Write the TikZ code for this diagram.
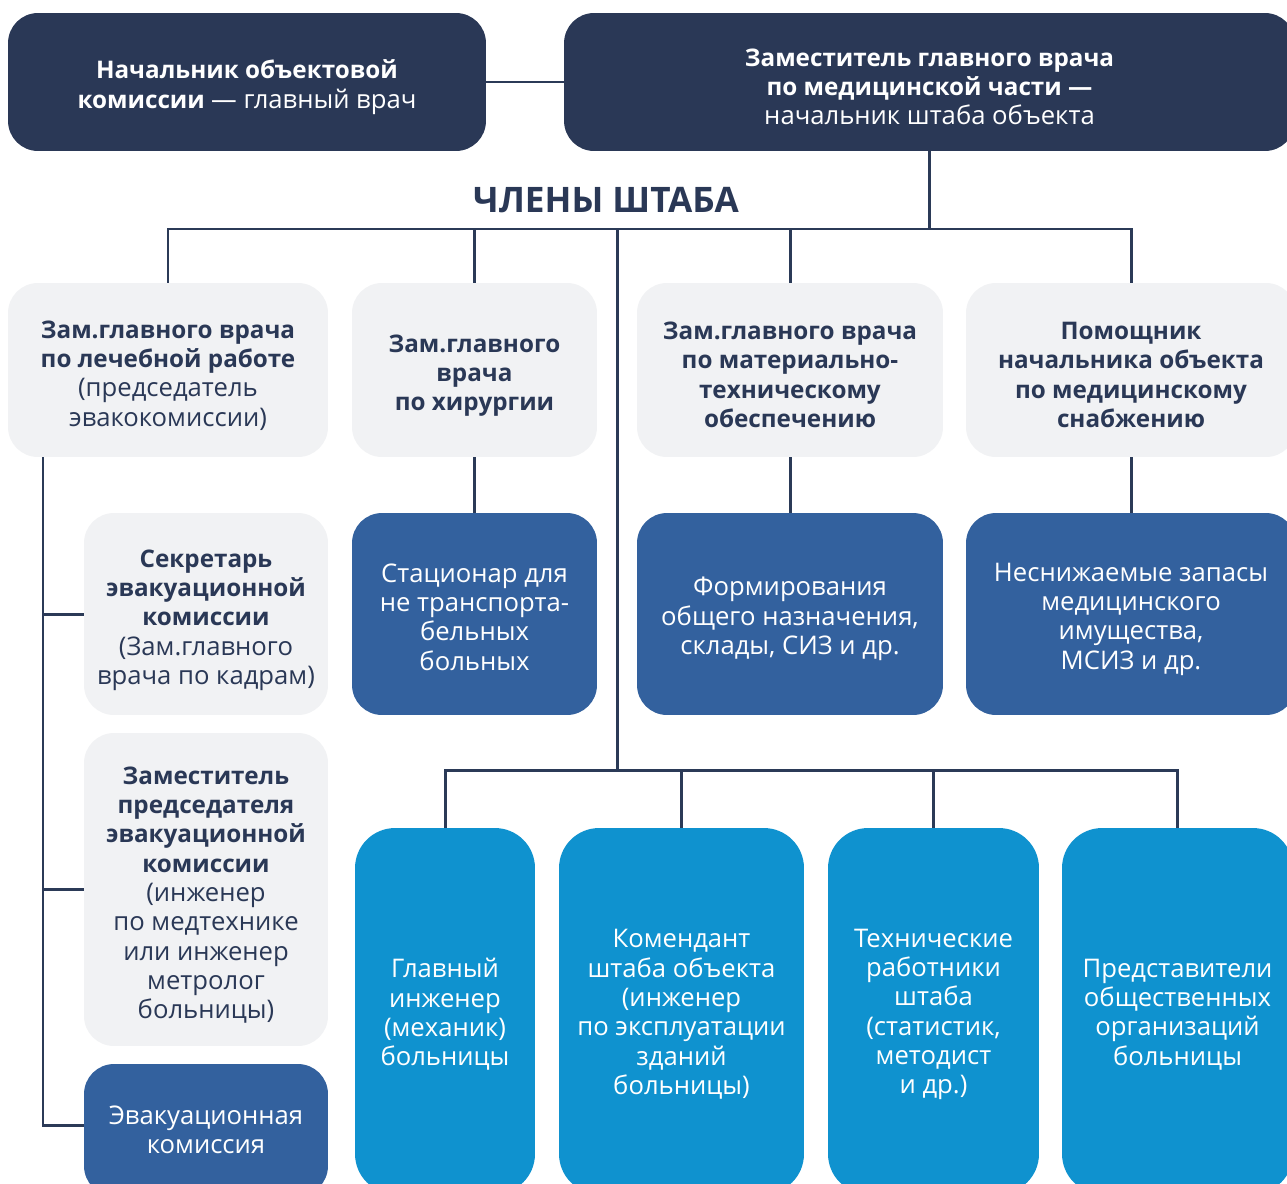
\documentclass[tikz,border=0pt]{standalone}
\usepackage{fontspec}
\setmainfont{Open Sans}
\usetikzlibrary{calc}
\definecolor{navy}{HTML}{2A3856}
\definecolor{linec}{HTML}{2B3A57}
\definecolor{greyc}{HTML}{F1F2F4}
\definecolor{midb}{HTML}{33619E}
\definecolor{brightb}{HTML}{0F92CF}
\newcommand\bd{\fontsize{13.8}{16.7}\selectfont\bfseries}
\newcommand\rg{\fontsize{14.6}{16.7}\selectfont\mdseries}
% #1 style, #2 name, #3 x, #4 y, #5 width cm, #6 height cm, #7 text shift, #8 text
\newcommand\mybox[8]{%
  \node[#1, minimum width=#5cm, minimum height=#6cm] (#2) at (#3,#4) {};
  \node[#1 text] (#2t) at ([yshift=-#7cm]#2.center) {#8};}
\begin{document}
\begin{tikzpicture}[x=0.02cm,y=-0.02cm,
  conn/.style={draw=linec, line width=1.7pt},
  shp/.style={inner sep=0pt},
  txt/.style={align=center, inner sep=0pt, font=\rg},
  dark/.style={shp, fill=navy, rounded corners=0.6cm},
  grey/.style={shp, fill=greyc, rounded corners=0.6cm},
  mid/.style={shp, fill=midb, rounded corners=0.6cm},
  bright/.style={shp, fill=brightb, rounded corners=0.8cm},
  dark text/.style={txt, text=white},
  grey text/.style={txt, text=navy},
  mid text/.style={txt, text=white},
  bright text/.style={txt, text=white}]
\useasboundingbox (0,0) rectangle (1287,1183);
\clip (0,0) rectangle (1287,1183);
\fill[white] (0,0) rectangle (1287,1183);

% top row
\mybox{dark}{tl}{247}{82}{9.56}{2.76}{0.1}
  {\bd Начальник объектовой\\\bd комиссии \rg — главный врач}
\mybox{dark}{tr}{929.5}{82}{14.62}{2.76}{0.1}
  {\bd Заместитель главного врача\\\bd по медицинской части —\\\rg начальник штаба объекта}

\node[font=\fontsize{20}{24}\selectfont\bfseries, text=navy] (title) at (606,200) {ЧЛЕНЫ ШТАБА};

% second row
\mybox{grey}{g1}{168}{370}{6.4}{3.48}{0.11}
  {\bd Зам.главного врача\\\bd по лечебной работе\\\rg (председатель\\\rg эвакокомиссии)}
\mybox{grey}{g2}{474.5}{370}{4.9}{3.48}{0.11}
  {\bd Зам.главного\\\bd врача\\\bd по хирургии}
\mybox{grey}{g3}{790}{370}{6.12}{3.48}{0.1}
  {\bd Зам.главного врача\\\bd по материально-\\\bd техническому\\\bd обеспечению}
\mybox{grey}{g4}{1131}{370}{6.6}{3.48}{0.1}
  {\bd Помощник\\\bd начальника объекта\\\bd по медицинскому\\\bd снабжению}

% left column
\mybox{grey}{sec}{206}{614}{4.88}{4.04}{0.12}
  {\bd Секретарь\\\bd эвакуационной\\\bd комиссии\\\rg (Зам.главного\\\rg врача по кадрам)}
\mybox{grey}{zam}{206}{889.5}{4.88}{6.26}{0.11}
  {\bd Заместитель\\\bd председателя\\\bd эвакуационной\\\bd комиссии\\\rg (инженер\\\rg по медтехнике\\\rg или инженер\\\rg метролог\\\rg больницы)}
\mybox{mid}{evak}{206}{1130}{4.88}{2.64}{0.0}
  {Эвакуационная\\комиссия}

% third row
\mybox{mid}{b2}{474.5}{614}{4.9}{4.04}{0.06}
  {Стационар для\\не транспорта-\\бельных\\больных}
\mybox{mid}{b3}{790}{614}{6.12}{4.04}{0.1}
  {Формирования\\общего назначения,\\склады, СИЗ и др.}
\mybox{mid}{b4}{1131}{614}{6.6}{4.04}{0.1}
  {Неснижаемые запасы\\медицинского\\имущества,\\МСИЗ и др.}

% bottom row
\mybox{bright}{c1}{445}{1011}{3.6}{7.32}{0.07}
  {Главный\\инженер\\(механик)\\больницы}
\mybox{bright}{c2}{681.5}{1011}{4.9}{7.32}{0.07}
  {Комендант\\штаба объекта\\(инженер\\по эксплуатации\\зданий\\больницы)}
\mybox{bright}{c3}{933.5}{1011}{4.22}{7.32}{0.07}
  {Технические\\работники\\штаба\\(статистик,\\методист\\и др.)}
\mybox{bright}{c4}{1177.5}{1011}{4.62}{7.32}{0.07}
  {Представители\\общественных\\организаций\\больницы}

% connectors
\coordinate (bus) at (0,229);
\coordinate (hub) at (617,229);
\coordinate (hub2) at (617,770);
\coordinate (spine) at (43,457);

\draw[conn] (tl.east) -- (tr.west);
\draw[conn] (tr.south) -- (tr.south |- bus);
\draw[conn] (g1.north) -- (g1.north |- bus) -- (g4.north |- bus) -- (g4.north);
\draw[conn] (g2.north) -- (g2.north |- bus);
\draw[conn] (g3.north) -- (g3.north |- bus);
\draw[conn] (hub) -- (hub2);
\draw[conn] (c1.north) -- (c1.north |- hub2) -- (c4.north |- hub2) -- (c4.north);
\draw[conn] (c2.north) -- (c2.north |- hub2);
\draw[conn] (c3.north) -- (c3.north |- hub2);
\draw[conn] (g2.south) -- (b2.north);
\draw[conn] (g3.south) -- (b3.north);
\draw[conn] (g4.south) -- (b4.north);
\draw[conn] (spine) |- ([yshift=0.1cm]evak.west);
\draw[conn] (spine |- sec.west) -- (sec.west);
\draw[conn] (spine |- zam.west) -- (zam.west);
\end{tikzpicture}
\end{document}
